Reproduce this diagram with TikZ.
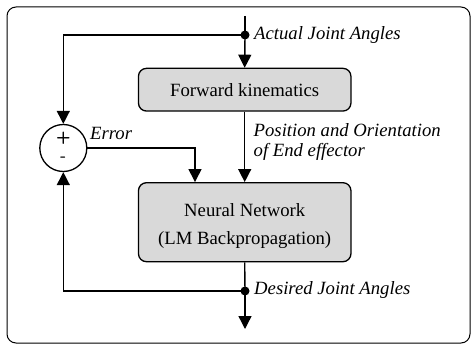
\documentclass[tikz,border=0pt]{standalone}
\usepackage{fontspec}
\setmainfont{Liberation Serif}
\usetikzlibrary{arrows.meta}
\definecolor{boxgray}{HTML}{D9D9D9}
\tikzset{
  blk/.style={draw, line width=1.3pt, fill=boxgray, rounded corners=8pt, minimum width=212.5pt, align=center, inner sep=0pt, font=\fontsize{18.7}{27.5}\selectfont},
  conn/.style={line width=1.4pt, -{Triangle[width=13pt,length=13pt]}},
  ln/.style={line width=1.4pt},
  lbl/.style={font=\fontsize{18.7}{22}\selectfont\itshape, anchor=west, inner sep=0pt},
  jdot/.style={circle, fill, inner sep=0pt, minimum size=9pt},
  sgn/.style={font=\sffamily\bfseries\fontsize{17}{19}\selectfont, inner sep=0pt},
}
\begin{document}
\begin{tikzpicture}[x=1pt,y=-1pt]
\useasboundingbox (0,0) rectangle (474,345);
\draw[line width=1pt, rounded corners=9pt] (7,7) rectangle (470,343);
\node[blk, minimum height=42.7pt] (fk) at (244.7,89.7) {Forward kinematics};
\node[blk, minimum height=79pt] (nn) at (244.7,222.2) {};
\node[align=center, inner sep=0pt, font=\fontsize{18.7}{28}\selectfont] (nntext) at (244.7,226) {Neural Network\\(LM Backpropagation)};
\node[circle, draw, line width=1.3pt, minimum size=47pt, inner sep=0pt] (sum) at (63.3,148) {};
\node[sgn] (plus) at (63.3,138) {+};
\node[sgn] (minus) at (63.3,159.5) {-};
\coordinate (top) at (245,16);
\node[jdot] (d1) at (245,35) {};
\node[jdot] (d2) at (245,291) {};
\coordinate (out) at (245,329);
\coordinate (e1) at (195,148);
\draw[ln] (top) -- (d1.center);
\draw[conn] (d1.center) -- (fk.north);
\draw[conn] (d1.center) -| (sum.north);
\draw[conn] (fk.south) -- (nn.north);
\draw[conn] (sum.east) -| (nn.north -| e1);
\draw[ln] (nn.south) -- (d2.center);
\draw[conn] (d2.center) -- (out);
\draw[conn] (d2.center) -| (sum.south);
\node[lbl] (l1) at (254,35.5) {Actual Joint Angles};
\node[lbl] (l2) at (253.5,130) {Position and Orientation};
\node[lbl] (l3) at (253.5,152) {of End effector};
\node[lbl] (l4) at (90,133) {Error};
\node[lbl] (l5) at (254,290) {Desired Joint Angles};
\end{tikzpicture}
\end{document}
